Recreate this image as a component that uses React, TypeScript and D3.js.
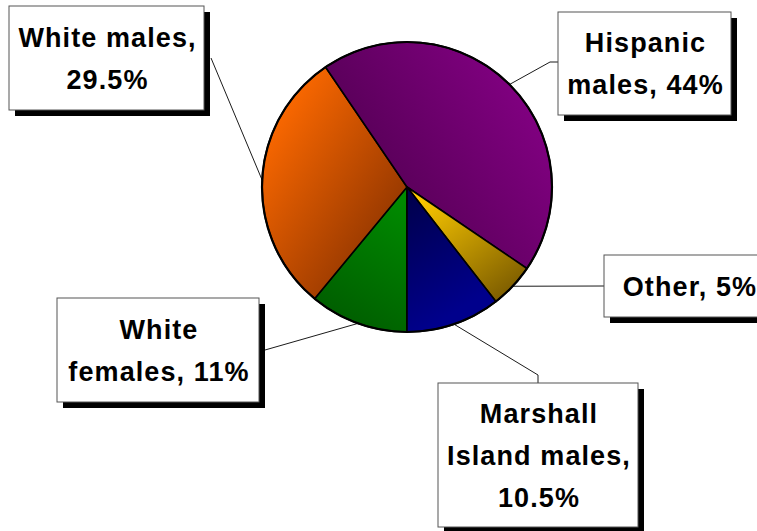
import React from 'react';
import * as d3 from 'd3';

// slice order runs clockwise starting from the bottom of the pie
const groups = ['White females', 'White males', 'Hispanic males', 'Other', 'Marshall Island males'];
const shares = [11, 29.5, 44, 5, 10.5];
const labelLines = [
  ['White', 'females, 11%'],
  ['White males,', '29.5%'],
  ['Hispanic', 'males, 44%'],
  ['Other, 5%'],
  ['Marshall', 'Island males,', '10.5%']
];

// gradient fill per slice: light colour, dark colour, and where they sit
const sliceStyles = [
  { light: '#008a00', dark: '#005a00', from: [400, 200], to: [325, 325] },
  { light: '#ff6a00', dark: '#963800', from: [268, 115], to: [405, 205] },
  { light: '#840084', dark: '#580058', from: [540, 90], to: [385, 190] },
  { light: '#ffcc00', dark: '#7a5a00', from: [418, 195], to: [500, 305] },
  { light: '#00008c', dark: '#00004c', from: [475, 300], to: [410, 195] }
];

// label boxes and leader line bends
const boxes = [
  { x: 57, y: 298, w: 202, h: 104, bend: null, anchor: [265, 350] },
  { x: 9, y: 6, w: 195, h: 104, bend: null, anchor: [211, 58] },
  { x: 558, y: 12, w: 173, h: 103, bend: [550, 62], anchor: [558, 62] },
  { x: 604, y: 255, w: 170, h: 62, bend: null, anchor: [604, 286] },
  { x: 438, y: 383, w: 200, h: 144, bend: [538, 375], anchor: [538, 383] }
];

const width = 757;
const height = 531;
const cx = 407;
const cy = 187;
const radius = 145;
const lineHeight = 42;

export default function App() {
  const pie = d3.pie<number>().sort(null).value(d => d).startAngle(Math.PI).endAngle(3 * Math.PI);
  const arcs = pie(shares);
  const arc = d3.arc<d3.PieArcDatum<number>>().innerRadius(0).outerRadius(radius);
  const line = d3.line();

  return (
    <svg width={width} height={height} style={{ position: 'fixed', left: 0, top: 0, background: '#fff' }}
      fontFamily="'Liberation Sans', Arial, sans-serif">
      <defs>
        {sliceStyles.map((s, i) => (
          <linearGradient key={i} id={'grad' + i} gradientUnits="userSpaceOnUse"
            x1={s.from[0] - cx} y1={s.from[1] - cy} x2={s.to[0] - cx} y2={s.to[1] - cy}>
            <stop offset="0" stopColor={s.light} />
            <stop offset="1" stopColor={s.dark} />
          </linearGradient>
        ))}
      </defs>

      {/* leader lines */}
      {arcs.map((a, i) => {
        const mid = (a.startAngle + a.endAngle) / 2;
        const start: [number, number] = [cx + radius * Math.sin(mid), cy - radius * Math.cos(mid)];
        const b = boxes[i];
        const pts: [number, number][] = b.bend ? [start, b.bend as [number, number], b.anchor as [number, number]] : [start, b.anchor as [number, number]];
        return <path key={'l' + i} d={line(pts) || ''} fill="none" stroke="#000" strokeWidth={0.9} />;
      })}

      <g transform={`translate(${cx},${cy})`}>
        {arcs.map((a, i) => (
          <path key={groups[i]} d={arc(a) || ''} fill={`url(#grad${i})`} stroke="#000" strokeWidth={1.6} strokeLinejoin="round" />
        ))}
        <circle r={radius} fill="none" stroke="#000" strokeWidth={2.2} />
      </g>

      {/* label boxes */}
      {boxes.map((b, i) => {
        const lines = labelLines[i];
        const mid = b.y + b.h / 2;
        return (
          <g key={'b' + i}>
            <rect x={b.x + 6} y={b.y + 6} width={b.w} height={b.h} fill="#000" />
            <rect x={b.x} y={b.y} width={b.w} height={b.h} fill="#fff" stroke="#555" strokeWidth={1} />
            {lines.map((t, j) => (
              <text key={j} x={b.x + b.w / 2 + 1} y={mid + (j - (lines.length - 1) / 2) * lineHeight + 9.5}
                textAnchor="middle" fontSize={27} fontWeight="bold" letterSpacing={1.1} fill="#000">
                {t}
              </text>
            ))}
          </g>
        );
      })}
    </svg>
  );
}
